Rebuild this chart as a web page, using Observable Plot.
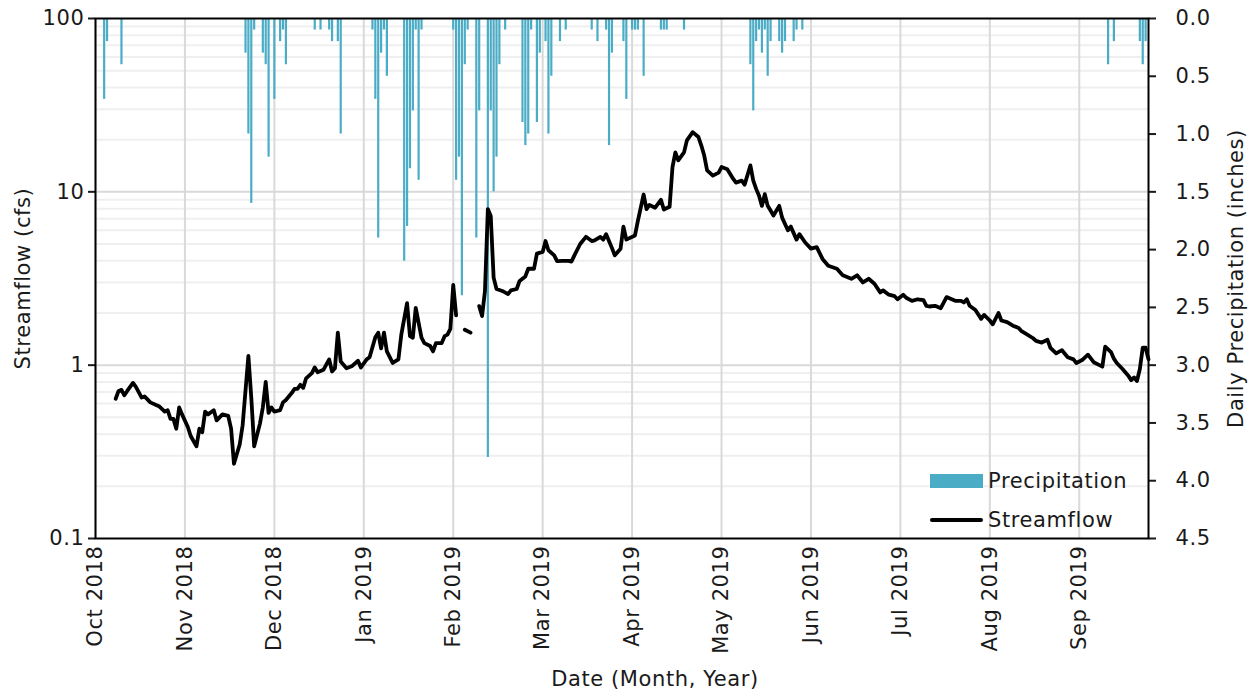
<!DOCTYPE html>
<html>
<head>
<meta charset="utf-8">
<script src="https://cdn.jsdelivr.net/npm/d3@7"></script>
<script src="https://cdn.jsdelivr.net/npm/@observablehq/plot@0.6"></script>
<style>
  html, body { margin: 0; padding: 0; background: #ffffff; overflow: hidden; }
  #chart { position: relative; width: 1250px; height: 693px; font-family: "DejaVu Sans", sans-serif; color: #1a1a1a; }
  #chart svg { position: absolute; left: 0; top: 0; }
  .leg-sw { position: absolute; }
  .leg-tx { position: absolute; font-size: 21px; letter-spacing: 0.6px; line-height: 24px; white-space: nowrap; }
</style>
</head>
<body>
<div id="chart"></div>
<script>
// ---------------- data ----------------
const xTickDates = ["2018-10-01","2018-11-01","2018-12-02","2019-01-02","2019-02-02","2019-03-05","2019-04-05","2019-05-06","2019-06-06","2019-07-07","2019-08-07","2019-09-07"];
const xTickLabels = ["Oct 2018","Nov 2018","Dec 2018","Jan 2019","Feb 2019","Mar 2019","Apr 2019","May 2019","Jun 2019","Jul 2019","Aug 2019","Sep 2019"];
const xDomain = ["2018-10-01", "2019-10-01"];

const flowTicks = [0.1, 1, 10, 100];
const flowMajorGrid = [1, 10];
const flowMinorGrid = [0.2,0.3,0.4,0.5,0.6,0.7,0.8,0.9, 2,3,4,5,6,7,8,9, 20,30,40,50,60,70,80,90];
const precipTicks = [0, 0.5, 1.0, 1.5, 2.0, 2.5, 3.0, 3.5, 4.0, 4.5];

const precipDate = ["2018-10-04","2018-10-05","2018-10-10","2018-11-22","2018-11-23","2018-11-24","2018-11-25","2018-11-28","2018-11-29","2018-11-30",
  "2018-12-02","2018-12-04","2018-12-05","2018-12-06","2018-12-16","2018-12-18","2018-12-21","2018-12-22","2018-12-24","2018-12-25",
  "2019-01-05","2019-01-06","2019-01-07","2019-01-08","2019-01-09","2019-01-10","2019-01-16","2019-01-17","2019-01-18","2019-01-19","2019-01-20","2019-01-21","2019-01-22",
  "2019-02-02","2019-02-03","2019-02-04","2019-02-05","2019-02-06","2019-02-07","2019-02-10","2019-02-11","2019-02-14","2019-02-15","2019-02-16","2019-02-17","2019-02-18","2019-02-20",
  "2019-02-26","2019-02-27","2019-02-28","2019-03-01","2019-03-03","2019-03-04","2019-03-06","2019-03-07","2019-03-08","2019-03-11","2019-03-13",
  "2019-03-22","2019-03-24","2019-03-27","2019-03-28","2019-03-29","2019-04-02","2019-04-03","2019-04-05","2019-04-06","2019-04-07","2019-04-09",
  "2019-04-15","2019-04-16","2019-04-17","2019-04-23",
  "2019-05-16","2019-05-17","2019-05-18","2019-05-19","2019-05-20","2019-05-21","2019-05-22","2019-05-23","2019-05-26","2019-05-27","2019-05-28","2019-05-31","2019-06-01","2019-06-03",
  "2019-09-17","2019-09-19","2019-09-28","2019-09-29","2019-09-30"];
const precipInches = [0.7,0.2,0.4,0.3,1.0,1.6,0.1,0.3,0.4,1.2,
  0.7,0.2,0.1,0.4,0.1,0.1,0.1,0.2,0.2,1.0,
  0.1,0.7,1.9,0.3,0.1,0.5,2.1,1.8,1.3,0.8,0.1,1.4,0.1,
  0.1,1.4,1.2,2.4,0.4,0.1,1.9,0.8,3.8,0.8,1.5,1.2,0.4,0.1,
  0.9,1.1,1.0,0.1,0.9,0.3,0.2,1.0,0.5,0.2,0.1,
  0.1,0.2,0.1,1.1,0.3,0.2,0.7,0.1,0.1,0.1,0.5,
  0.1,0.1,0.1,0.1,
  0.4,0.8,0.2,0.1,0.3,0.1,0.5,0.2,0.2,0.3,0.2,0.2,0.1,0.1,
  0.4,0.2,0.2,0.4,0.2];

const flowDate = ["2018-10-08","2018-10-09","2018-10-10","2018-10-11","2018-10-12","2018-10-14","2018-10-15","2018-10-17","2018-10-18","2018-10-20",
  "2018-10-22","2018-10-23","2018-10-25","2018-10-26","2018-10-27","2018-10-28","2018-10-29","2018-10-30","2018-10-31",
  "2018-11-02","2018-11-03","2018-11-05","2018-11-06","2018-11-07","2018-11-08","2018-11-09","2018-11-11","2018-11-12","2018-11-14","2018-11-16",
  "2018-11-17","2018-11-18","2018-11-20","2018-11-21","2018-11-23","2018-11-24","2018-11-25","2018-11-27","2018-11-28","2018-11-29","2018-11-30",
  "2018-12-01","2018-12-02","2018-12-04","2018-12-05","2018-12-06","2018-12-08","2018-12-09","2018-12-10","2018-12-11","2018-12-12","2018-12-13",
  "2018-12-15","2018-12-16","2018-12-17","2018-12-19","2018-12-21","2018-12-22","2018-12-23","2018-12-24","2018-12-25","2018-12-27","2018-12-29","2018-12-31",
  "2019-01-01","2019-01-03","2019-01-04","2019-01-06","2019-01-07","2019-01-08","2019-01-09","2019-01-10","2019-01-12","2019-01-14","2019-01-15",
  "2019-01-17","2019-01-18","2019-01-19","2019-01-20","2019-01-22","2019-01-23","2019-01-25","2019-01-26","2019-01-27","2019-01-29","2019-01-30","2019-01-31",
  "2019-02-01","2019-02-02","2019-02-03","2019-02-04","2019-02-06","2019-02-08","2019-02-09","2019-02-11","2019-02-12","2019-02-13","2019-02-14","2019-02-15",
  "2019-02-16","2019-02-17","2019-02-19","2019-02-21","2019-02-22","2019-02-24","2019-02-25","2019-02-27","2019-02-28",
  "2019-03-02","2019-03-03","2019-03-05","2019-03-06","2019-03-07","2019-03-09","2019-03-10","2019-03-12","2019-03-14","2019-03-15","2019-03-16",
  "2019-03-18","2019-03-20","2019-03-22","2019-03-23","2019-03-25","2019-03-26","2019-03-27","2019-03-29","2019-03-30",
  "2019-04-01","2019-04-02","2019-04-03","2019-04-06","2019-04-07","2019-04-09","2019-04-10","2019-04-11","2019-04-13","2019-04-15","2019-04-16",
  "2019-04-18","2019-04-19","2019-04-20","2019-04-21","2019-04-23","2019-04-24","2019-04-26","2019-04-28","2019-04-29","2019-04-30",
  "2019-05-01","2019-05-03","2019-05-05","2019-05-06","2019-05-08","2019-05-10","2019-05-11","2019-05-13","2019-05-14","2019-05-16","2019-05-17",
  "2019-05-18","2019-05-19","2019-05-20","2019-05-21","2019-05-22","2019-05-23","2019-05-24","2019-05-26","2019-05-27","2019-05-29","2019-05-30",
  "2019-06-01","2019-06-02","2019-06-04","2019-06-06","2019-06-08","2019-06-10","2019-06-12","2019-06-15","2019-06-17","2019-06-20","2019-06-22",
  "2019-06-24","2019-06-26","2019-06-28","2019-06-30",
  "2019-07-01","2019-07-03","2019-07-05","2019-07-06","2019-07-08","2019-07-09","2019-07-11","2019-07-13","2019-07-15","2019-07-16","2019-07-17",
  "2019-07-19","2019-07-21","2019-07-23","2019-07-24","2019-07-26","2019-07-28","2019-07-29","2019-07-30","2019-07-31",
  "2019-08-02","2019-08-04","2019-08-05","2019-08-07","2019-08-08","2019-08-10","2019-08-11","2019-08-13","2019-08-15","2019-08-17","2019-08-18",
  "2019-08-20","2019-08-22","2019-08-23","2019-08-25","2019-08-27","2019-08-28","2019-08-30",
  "2019-09-01","2019-09-03","2019-09-05","2019-09-06","2019-09-08","2019-09-10","2019-09-12","2019-09-14","2019-09-15","2019-09-16","2019-09-18",
  "2019-09-19","2019-09-20","2019-09-22","2019-09-24","2019-09-25","2019-09-26","2019-09-27","2019-09-28","2019-09-29","2019-09-30","2019-10-01"];
const flowCfs = [0.64,0.71,0.72,0.67,0.71,0.79,0.75,0.65,0.66,0.61,
  0.59,0.58,0.54,0.55,0.49,0.49,0.43,0.57,0.52,
  0.44,0.39,0.34,0.43,0.41,0.54,0.52,0.55,0.48,0.52,0.51,
  0.43,0.27,0.35,0.45,1.13,0.65,0.34,0.46,0.57,0.80,0.53,
  0.57,0.54,0.55,0.61,0.63,0.69,0.73,0.73,0.77,0.74,0.84,
  0.90,0.97,0.91,0.94,1.08,0.92,0.96,1.54,1.05,0.96,0.99,1.06,
  0.97,1.08,1.11,1.45,1.54,1.25,1.54,1.20,1.03,1.08,1.50,
  2.28,1.47,1.44,2.14,1.44,1.34,1.29,1.20,1.34,1.34,1.47,1.50,
  1.62,2.90,1.94,NaN,1.60,1.54,NaN,2.19,1.92,2.68,7.95,7.26,
  3.20,2.75,2.68,2.57,2.70,2.75,3.06,3.25,3.60,
  3.60,4.40,4.50,5.20,4.60,4.30,3.98,4.00,4.00,3.96,4.30,
  5.00,5.50,5.20,5.25,5.50,5.30,5.70,4.75,4.30,
  4.70,6.30,5.30,5.60,6.80,9.65,7.95,8.40,8.10,9.00,7.90,
  8.20,13.9,16.9,15.2,16.9,19.8,22.1,20.7,18.5,16.2,
  13.3,12.4,12.9,13.9,13.5,11.9,11.3,11.6,11.0,14.2,11.6,
  10.4,9.5,8.3,9.7,8.3,7.8,7.3,8.3,7.1,6.0,6.3,
  5.3,5.7,5.1,4.7,4.8,4.1,3.75,3.6,3.3,3.15,3.3,
  3.0,3.15,2.95,2.63,
  2.70,2.55,2.50,2.40,2.55,2.45,2.35,2.40,2.37,2.20,2.18,
  2.20,2.13,2.47,2.43,2.35,2.35,2.30,2.40,2.20,
  2.08,1.85,1.95,1.81,1.72,2.00,1.81,1.77,1.69,1.64,1.57,
  1.50,1.43,1.38,1.35,1.40,1.26,1.17,
  1.22,1.11,1.08,1.03,1.07,1.15,1.04,1.00,0.98,1.28,1.19,
  1.09,1.03,0.95,0.87,0.82,0.85,0.81,0.95,1.26,1.26,1.08];

const xTitle = "Date (Month, Year)";
const yTitle = "Streamflow (cfs)";
const y2Title = "Daily Precipitation (inches)";
const legendItems = ["Precipitation", "Streamflow"];

// ---------------- tables ----------------
const precip = precipDate.map((d, i) => ({date: new Date(d), inches: precipInches[i]}));
const flow = flowDate.map((d, i) => ({date: new Date(d), cfs: flowCfs[i]}));
const xTicks = xTickDates.map(d => new Date(d));
const tickLabel = new Map(xTicks.map((d, i) => [+d, xTickLabels[i]]));

const W = 1250, H = 693;
const M = {marginLeft: 95, marginRight: 102, marginTop: 18, marginBottom: 155};
const FONT = "DejaVu Sans, sans-serif";
const xDom = xDomain.map(d => new Date(d));
const baseStyle = {fontFamily: FONT, fontSize: "21px", color: "#1a1a1a", background: "transparent", overflow: "visible", letterSpacing: "0.6px"};

// Layer 1: grid, left axis, bottom axis
const layer1 = Plot.plot({
  width: W, height: H, ...M,
  style: baseStyle,
  x: {type: "utc", domain: xDom},
  y: {type: "log", domain: [0.1, 100]},
  marks: [
    Plot.ruleY(flowMinorGrid, {stroke: "#efefef", strokeWidth: 2}),
    Plot.ruleY(flowMajorGrid, {stroke: "#d9d9d9", strokeWidth: 2}),
    Plot.ruleX(xTicks, {stroke: "#d9d9d9", strokeWidth: 2}),
    Plot.axisY({ticks: flowTicks, tickFormat: d => String(d), tickSize: 7, tickPadding: 4, strokeWidth: 2,
      label: yTitle, labelAnchor: "center", labelOffset: 80, labelArrow: "none"}),
    Plot.axisX({ticks: xTicks, tickFormat: d => tickLabel.get(+d), tickRotate: -90, tickSize: 0, tickPadding: 7, label: null}),
    Plot.text([xTitle], {frameAnchor: "bottom", dx: 33, dy: 147, fontSize: 21})
  ]
});

// Layer 2: precipitation bars, right axis
const layer2 = Plot.plot({
  width: W, height: H, ...M,
  style: baseStyle,
  x: {type: "utc", domain: xDom, axis: null},
  y: {domain: [0, 4.5], reverse: true, axis: null},
  marks: [
    Plot.ruleX(precip, {x: "date", y1: 0, y2: "inches", stroke: "#4bacc6", strokeWidth: 2.2}),
    Plot.axisY({anchor: "right", ticks: precipTicks, tickFormat: d3.format(".1f"), tickSize: 7, tickPadding: 20, strokeWidth: 2,
      label: y2Title, labelAnchor: "center", labelOffset: 94, labelArrow: "none"})
  ]
});

// Layer 3: streamflow line and frame
const layer3 = Plot.plot({
  width: W, height: H, ...M,
  style: baseStyle,
  x: {type: "utc", domain: xDom, axis: null},
  y: {type: "log", domain: [0.1, 100], axis: null},
  marks: [
    Plot.line(flow, {x: "date", y: "cfs", stroke: "#000", strokeWidth: 3.8, strokeLinejoin: "round", strokeLinecap: "round"}),
    Plot.frame({stroke: "#000", strokeWidth: 2})
  ]
});

const chart = document.getElementById("chart");
chart.append(layer1, layer2, layer3);

// Legend (HTML, inside the plot area, bottom right)
function legendRow(top, swatchCss, label) {
  const sw = document.createElement("div");
  sw.className = "leg-sw";
  Object.assign(sw.style, swatchCss);
  const tx = document.createElement("div");
  tx.className = "leg-tx";
  tx.textContent = label;
  Object.assign(tx.style, {left: "988px", top: (top - 12) + "px"});
  chart.append(sw, tx);
}
legendRow(481, {left: "930px", top: "474px", width: "53px", height: "14px", background: "#4bacc6"}, legendItems[0]);
legendRow(520, {left: "930px", top: "518px", width: "53px", height: "3.5px", background: "#000", borderRadius: "2px"}, legendItems[1]);
</script>
</body>
</html>
